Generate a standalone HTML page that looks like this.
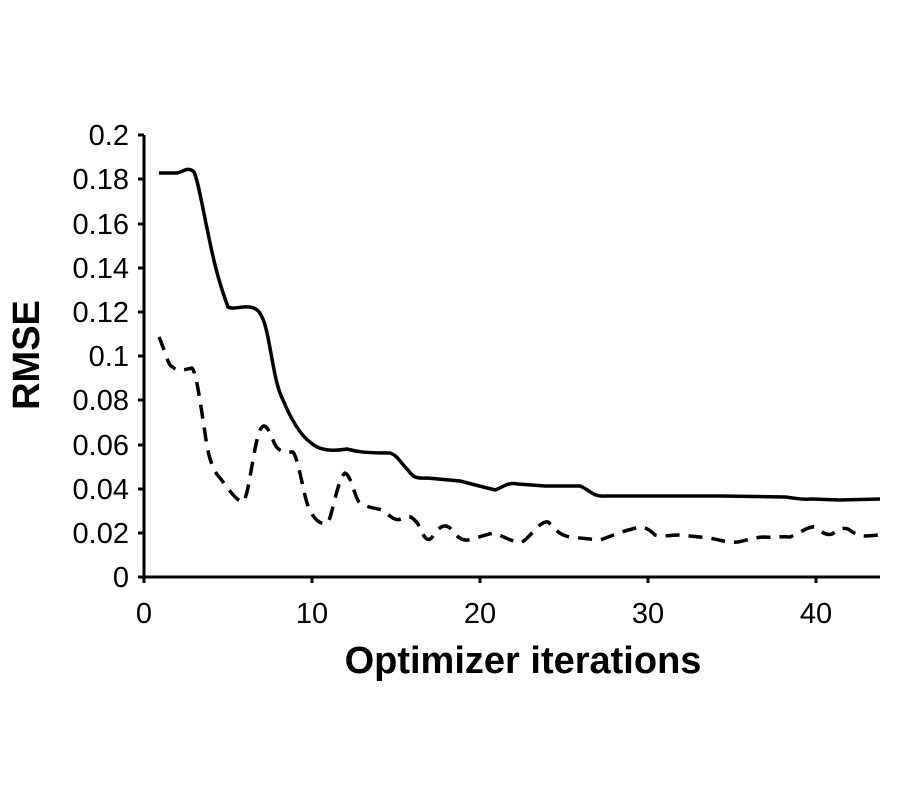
<!DOCTYPE html>
<html><head><style>body{margin:0;background:#fff}svg{display:block}</style></head>
<body>
<svg width="900" height="800" viewBox="0 0 900 800" xmlns="http://www.w3.org/2000/svg" font-family="Liberation Sans, Arial, sans-serif">
<rect width="900" height="800" fill="#fff"/>
<g stroke="#000" stroke-width="3" fill="none">
<path d="M144,135V577H880"/>
<path d="M138,135H144M138,179H144M138,224H144M138,268H144M138,312H144M138,356H144M138,400H144M138,445H144M138,489H144M138,533H144M138,577H144"/>
<path d="M144,577V583M312,577V583M480,577V583M648,577V583M816,577V583"/>
<path stroke-width="3.5" stroke-linejoin="round" d="M159,173L177,173C183,172 188,166 194,172C198,180 203,210 208,233C213,258 218,280 228,307C234,310 240,306 250,307C256,308 262,310 267,333C272,355 275,385 283,400C290,417 300,435 310,442C318,450 330,452 347,449C355,451 360,453 390,453C397,455 400,462 408,470C412,476 415,479 427,478L460,481L495,490C505,486 508,482 518,484L545,486L580,486C590,490 593,497 605,496L720,496L785,497C795,498 800,500 812,499L840,500L880,499"/>
<path stroke-width="3.5" stroke-dasharray="14,9" stroke-linejoin="round" d="M159,337C165,350 168,367 173,367C177,372 183,370 192,368C196,372 200,400 205,433C208,455 212,470 220,478C228,488 235,500 243,502C248,498 252,460 257,440C262,418 267,425 273,440C277,452 283,452 293,452C298,458 303,490 307,503C312,518 320,526 328,523C333,512 338,478 345,473C352,476 355,500 360,503C368,508 376,508 382,510C390,515 395,523 403,518C410,514 413,518 418,524C423,535 427,545 433,536C437,530 443,522 450,528C456,535 460,541 468,540L493,533C505,536 512,543 522,542C530,538 540,520 548,522C555,528 558,535 570,537L600,540C612,536 620,532 632,529C640,527 645,525 655,535C662,537 670,535 680,535L710,538C720,540 728,543 738,542C748,540 755,537 765,537C775,538 780,536 790,537C800,533 808,526 815,527C822,532 826,536 832,534C838,530 842,527 848,529C854,533 858,536 866,536L880,535"/>
</g>
<g font-size="29" text-anchor="end" fill="#000">
<text x="129" y="145">0.2</text><text x="129" y="189">0.18</text><text x="129" y="234">0.16</text><text x="129" y="278">0.14</text><text x="129" y="322">0.12</text><text x="129" y="366">0.1</text><text x="129" y="410">0.08</text><text x="129" y="455">0.06</text><text x="129" y="499">0.04</text><text x="129" y="543">0.02</text><text x="129" y="587">0</text>
</g>
<g font-size="29" text-anchor="middle" fill="#000">
<text x="144" y="623">0</text><text x="312" y="623">10</text><text x="480" y="623">20</text><text x="648" y="623">30</text><text x="816" y="623">40</text>
</g>
<text x="523" y="673" font-size="38" font-weight="bold" text-anchor="middle">Optimizer iterations</text>
<text transform="translate(39,355) rotate(-90)" font-size="38" font-weight="bold" text-anchor="middle">RMSE</text>
</svg>
</body></html>
